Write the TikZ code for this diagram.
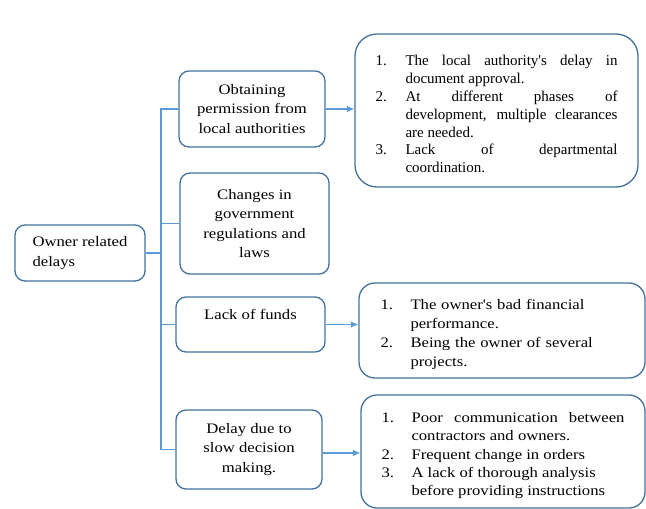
\documentclass[tikz,border=0pt]{standalone}
\usepackage{fontspec}
\setmainfont{Liberation Serif}
\newfontfamily\camb[FakeStretch=1.15]{Liberation Serif}
\newfontfamily\tnr{Liberation Serif}
\usetikzlibrary{arrows.meta}
\definecolor{boxc}{HTML}{41719C}
\definecolor{linec}{HTML}{5B9BD5}
\newcommand{\itm}[1]{\par\hangindent=30pt\hangafter=1\noindent\makebox[30pt][l]{#1}\ignorespaces}
\tikzset{
  lbox/.style={draw=boxc,line width=1.3pt,rounded corners=10pt,inner sep=0pt,align=center,
    font=\camb\fontsize{14.5}{19.5}\selectfont},
  rbox/.style={draw=boxc,line width=1.3pt,inner sep=0pt,text width=243pt},
  conn/.style={draw=linec,line width=1.1pt},
  arr/.style={conn,-{Latex[length=7.5pt,width=6.5pt]}}
}
\begin{document}
\begin{tikzpicture}[x=1pt,y=-1pt]
\useasboundingbox (0,0) rectangle (646,509);
\node[lbox,minimum width=130pt,minimum height=56pt,align=left] (own) at (80,253) {Owner related\\delays};
\node[lbox,minimum width=146pt,minimum height=76pt] (b1) at (252,109) {Obtaining\\permission from\\local authorities};
\node[lbox,minimum width=149pt,minimum height=101pt] (b2) at (254.5,223.5) {Changes in\\government\\regulations and\\laws};
\node[lbox,minimum width=149pt,minimum height=55pt] (b3) at (250.5,324.5) {Lack of funds\\\mbox{}};
\node[lbox,minimum width=146pt,minimum height=79pt] (b4) at (249,449.5) {Delay due to\\slow decision\\making.};

\node[rbox,rounded corners=22pt,minimum width=283pt,minimum height=153pt,text width=242pt,align=justify,
  font=\tnr\fontsize{15}{17.8}\selectfont] (r1) at (496.5,110.5) {%
\itm{1.}The local authority's delay in\linebreak document approval.
\itm{2.}At different phases of\linebreak development, multiple clearances\linebreak are needed.
\itm{3.}Lack of departmental\linebreak coordination.\par};

\node[rbox,rounded corners=16pt,minimum width=286pt,minimum height=95pt,align=left,
  font=\camb\fontsize{14.5}{19}\selectfont] (r2) at (502,330.5) {%
\itm{1.}The owner's bad financial\newline performance.
\itm{2.}Being the owner of several\newline projects.\par};

\node[rbox,rounded corners=16pt,minimum width=284pt,minimum height=113pt,align=justify,
  font=\camb\fontsize{14.5}{18.3}\selectfont] (r3) at (503,451.5) {%
\itm{1.}Poor communication between\linebreak contractors and owners.
\itm{2.}Frequent change in orders
\itm{3.}A lack of thorough analysis\newline before providing instructions\par};

\coordinate (t) at (161,253);
\draw[conn] (own.east) -- (t) |- (b1.west);
\draw[conn] (own.east) -- (t) |- (b2.west);
\draw[conn] (own.east) -- (t) |- (b3.west);
\draw[conn] (own.east) -- (t) |- (b4.west);

\draw[arr] (b1.east) -- (b1.east -| r1.west);
\draw[arr] (b3.east) -- (b3.east -| r2.west);
\draw[arr] ([yshift=-3.5pt]b4.east) -- ([yshift=-3.5pt]b4.east -| r3.west);
\end{tikzpicture}
\end{document}
